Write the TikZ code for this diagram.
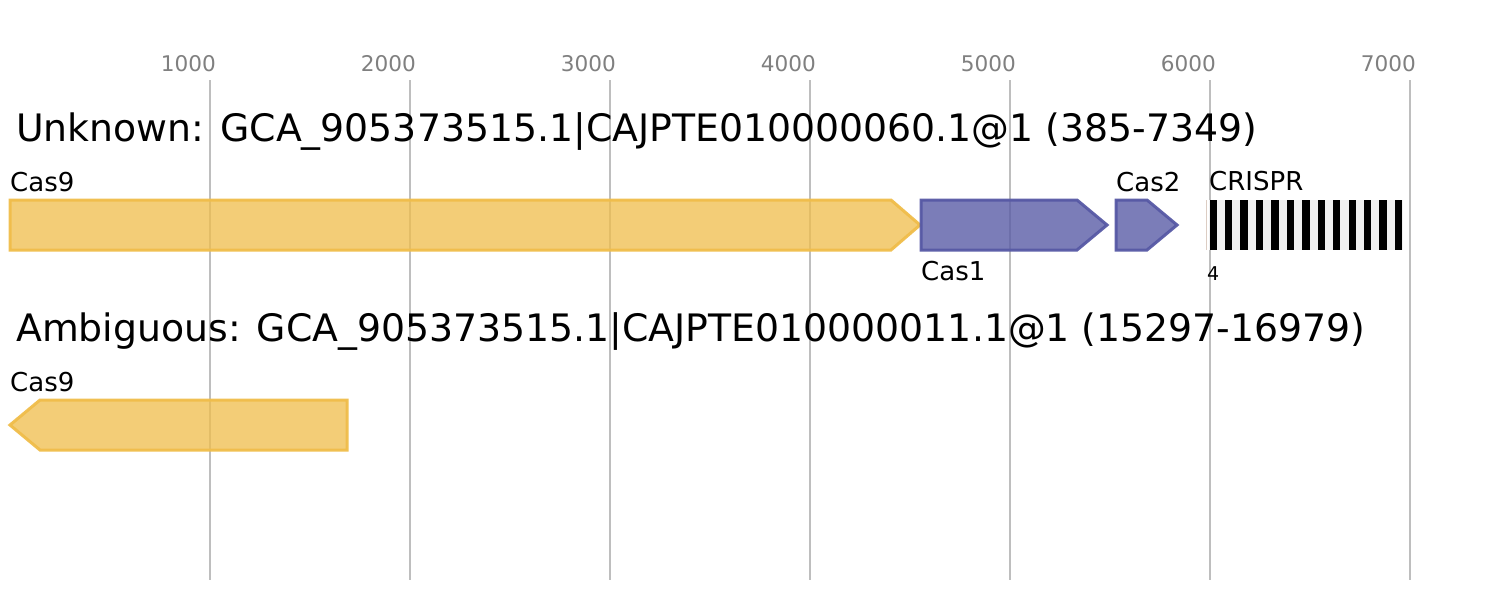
\documentclass[tikz,border=0pt]{standalone}
\usepackage{fontspec}
\setmainfont{DejaVu Sans}
\definecolor{gridc}{RGB}{190,190,190}
\definecolor{axisc}{RGB}{128,128,128}
\definecolor{casY}{RGB}{240,189,74}
\definecolor{casB}{RGB}{87,89,165}
\definecolor{crgray}{RGB}{240,240,240}
\definecolor{crtick}{RGB}{220,205,195}
\tikzset{
  gridline/.style={draw=gridc, line width=1.5pt},
  axislabel/.style={anchor=base east, inner sep=0pt, text=axisc, font=\fontsize{21.6}{22}\selectfont},
  title/.style={anchor=base west, inner sep=0pt, font=\fontsize{37.8}{38}\selectfont},
  genelabel/.style={anchor=base west, inner sep=0pt, font=\fontsize{26}{26}\selectfont},
  smalllabel/.style={anchor=base west, inner sep=0pt, font=\fontsize{19}{19}\selectfont},
  geneY/.style={draw=casY, fill=casY, fill opacity=0.75, draw opacity=0.95, line width=3pt, line join=miter},
  geneB/.style={draw=casB, fill=casB, fill opacity=0.78, draw opacity=0.95, line width=3pt, line join=miter},
}
\begin{document}
\begin{tikzpicture}[x=1pt,y=-1pt]
\useasboundingbox[fill=white] (0,0) rectangle (1493,600);
% grid
\foreach \i/\lab in {0/1000,1/2000,2/3000,3/4000,4/5000,5/6000,6/7000}{
  \draw[gridline] (210+200*\i,80) -- (210+200*\i,580);
  \node[axislabel] (ax\i) at (216+200*\i,71) {\lab};
}
% row 1
\node[title] (t1) at (16,141) {Unknown: GCA\_905373515.1|CAJPTE010000060.1@1 (385-7349)};
\draw[geneY] (10,200) -- (891,200) -- (920,225) -- (891,250) -- (10,250) -- cycle;
\node[genelabel] (l9a) at (10,191) {Cas9};
\draw[geneB] (921,200) -- (1077,200) -- (1107,225) -- (1077,250) -- (921,250) -- cycle;
\node[genelabel] (l1) at (921,280) {Cas1};
\draw[geneB] (1116,200) -- (1147,200) -- (1177,225) -- (1147,250) -- (1116,250) -- cycle;
\node[genelabel] (l2) at (1116,191) {Cas2};
% CRISPR
\fill[crgray] (1209,200) rectangle (1403,250);
\draw[crtick, line width=1pt] (1206,200) -- (1206,250);
\foreach \k in {0,...,12}{
  \fill[black] (1209.5+15.45*\k,200) rectangle (1216.8+15.45*\k,250);
}
\node[genelabel] (lcr) at (1209,190) {CRISPR};
\node[smalllabel] (l4) at (1207,280.5) {4};
% row 2
\node[title] (t2) at (16,341) {Ambiguous: GCA\_905373515.1|CAJPTE010000011.1@1 (15297-16979)};
\draw[geneY] (347,400) -- (40,400) -- (10,425) -- (40,450) -- (347,450) -- cycle;
\node[genelabel] (l9b) at (10,391) {Cas9};
\end{tikzpicture}
\end{document}
